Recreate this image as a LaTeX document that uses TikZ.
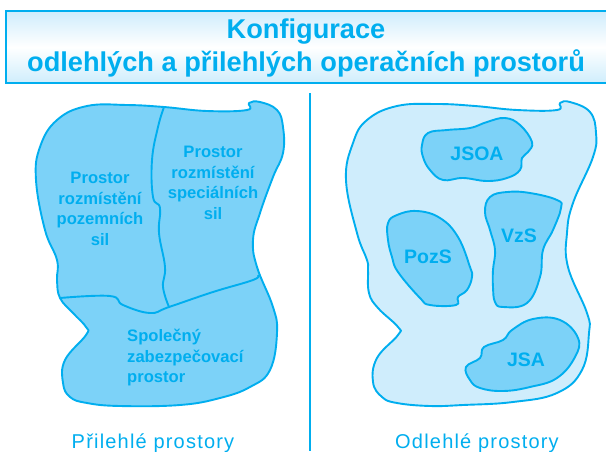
\documentclass[tikz,border=0pt]{standalone}
\usepackage{fontspec}
\setmainfont{Liberation Sans}
\definecolor{lineblue}{HTML}{00AEEF}
\definecolor{fillblue}{HTML}{7CD2F8}
\definecolor{paleblue}{HTML}{CFEDFC}
\tikzset{
  region/.style={draw=lineblue,line width=1.9pt,line join=round},
  lab/.style={text=lineblue,font=\bfseries\fontsize{16.6}{20.5}\selectfont,align=center,inner sep=0pt},
  abbr/.style={text=lineblue,font=\bfseries\fontsize{19.5}{20}\selectfont,inner sep=0pt},
  captext/.style={text=lineblue,font=\fontsize{20}{20}\selectfont\addfontfeature{LetterSpace=6},inner sep=0pt},
  ttl/.style={text=lineblue,font=\bfseries\fontsize{27.2}{32.5}\selectfont,align=center,inner sep=0pt}
}
\begin{document}
\begin{tikzpicture}[x=1pt,y=-1pt]
\useasboundingbox (0,0) rectangle (606,451);
\fill[white] (0,0) rectangle (606,451);
% title
\shade[top color=paleblue,bottom color=paleblue,middle color=white] (6,11) rectangle (607,83);
\draw[lineblue,line width=1.8pt] (607,11) -- (6,11) -- (6,83) -- (607,83);
\node[ttl] (title) at (306,48) {Konfigurace\\odlehlých a přilehlých operačních prostorů};
% separator
\coordinate (sepT) at (310,93);
\coordinate (sepB) at (310,451);
\draw[lineblue,line width=2.8pt] (sepT) -- (sepB);
% left: outline
\draw[region,fill=fillblue] plot[smooth cycle,tension=0.7] coordinates {
(164,107)(207,111)(247,110)(249,103)(260,102)(277,110)(283,127)(283,153)(273,177)(260,213)(253,240)(257,267)
(273,307)(277,333)(270,370)(250,387)(220,398)(180,405)(120,406)(87,403)(70,397)(63,383)(65,360)(86,335)(86,327)(73,313)(60,298)(57,280)
(57,260)(45,230)(36,180)(40,147)(57,120)(87,106)(127,105)};
% left: dividers
\draw[region] plot[smooth,tension=0.7] coordinates {(164,107)(158,127)(152,160)(153,197)(160,208)(159,233)(165,267)(163,287)(169,307)};
\draw[region] plot[smooth,tension=0.7] coordinates {(60,298)(110,296)(123,305)(150,313)(169,307)(213,292)(253,280)(258,275)};
\node[lab] (a) at (100,209) {Prostor\\rozmístění\\pozemních\\sil};
\node[lab] (b) at (213,183) {Prostor\\rozmístění\\speciálních\\sil};
\node[lab,align=left,anchor=west] (c) at (127,358) {Společný\\zabezpečovací\\prostor};
\node[captext] (capL) at (153,443) {Přilehlé prostory};
% right: outline
\draw[region,fill=paleblue] plot[smooth cycle,tension=0.7] coordinates {
(475,106)(517,110)(557,110)(560,103)(570,102)(590,112)(596,133)(593,157)(573,203)(567,233)(568,267)
(587,313)(589,333)(582,370)(557,393)(513,402)(463,405)(430,406)(397,403)(382,397)(373,382)(377,358)(398,335)(398,327)(378,308)(369,293)(368,270)
(367,260)(357,233)(346,180)(353,143)(367,120)(397,106)(437,104)};
% right: regions
\draw[region,fill=fillblue] plot[smooth cycle,tension=0.7] coordinates {
(422,145)(428,133)(447,130)(470,128)(487,122)(505,118)(520,125)(532,142)(528,152)(522,158)(520,170)(507,178)(487,181)(463,178)(443,180)(430,170)(423,157)};
\draw[region,fill=fillblue] plot[smooth cycle,tension=0.7] coordinates {
(485,212)(490,197)(507,192)(530,193)(557,200)(561,208)(553,230)(543,250)(540,277)(527,303)(503,307)(495,302)(493,287)(493,270)(495,250)(490,230)};
\draw[region,fill=fillblue] plot[smooth cycle,tension=0.7] coordinates {
(388,223)(397,215)(417,211)(440,218)(458,237)(470,267)(472,277)(467,290)(458,297)(456,305)(430,305)(420,298)(398,272)(392,257)(388,240)};
\draw[region,fill=fillblue] plot[smooth cycle,tension=0.7] coordinates {
(466,367)(480,358)(484,347)(503,340)(512,330)(533,319)(560,320)(578,338)(575,357)(557,378)(530,387)(503,391)(480,388)(470,380)};
\node[abbr] (jsoa) at (477,154) {JSOA};
\node[abbr] (vzs) at (519,236) {VzS};
\node[abbr] (pozs) at (428,257) {PozS};
\node[abbr] (jsa) at (526,360) {JSA};
\node[captext] (capR) at (477,443) {Odlehlé prostory};
\end{tikzpicture}
\end{document}
